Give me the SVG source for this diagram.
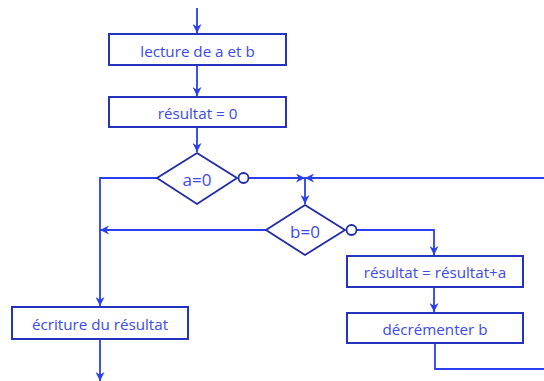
<svg xmlns="http://www.w3.org/2000/svg" width="544" height="381" viewBox="0 0 544 381">
<defs>
<marker id="ah" viewBox="0 0 10 10" refX="10" refY="5" markerWidth="9" markerHeight="9" markerUnits="userSpaceOnUse" orient="auto">
<path d="M0,0 L10,5 L0,10 L3,5 Z" fill="#2a3ff0"/>
</marker>
<style>
.box{fill:#fff;stroke:#2534c0;stroke-width:2}
.dia{fill:#fff;stroke:#1e2aa8;stroke-width:1.8}
.ln{fill:none;stroke:#2a3ff0;stroke-width:1.8}
.arr{fill:none;stroke:#2a3ff0;stroke-width:1.8;marker-end:url(#ah)}
.circ{fill:#fff;stroke:#1e2aa8;stroke-width:1.8}
text{font-family:"Open Sans","Liberation Sans",sans-serif;font-size:15.2px;fill:#3a4aee;text-anchor:middle;dominant-baseline:central}
.dt{font-size:17px}
</style>
</defs>
<rect width="544" height="381" fill="#fff"/>
<g id="connectors">
<path class="arr" d="M197,8 V33"/>
<path class="arr" d="M197,65 V96"/>
<path class="arr" d="M197,127 V152"/>
<path class="ln" d="M157,178 H100 V230"/>
<path class="arr" d="M100,230 V306"/>
<path class="arr" d="M249,178 H305"/>
<path class="arr" d="M544,178 H305"/>
<path class="arr" d="M305,178 V204"/>
<path class="arr" d="M266,230 H100"/>
<path class="arr" d="M357,230 H434 V255"/>
<path class="arr" d="M434,287 V312"/>
<path class="ln" d="M435,343 V369 H544"/>
<path class="arr" d="M100,339 V381"/>
</g>
<g id="n1"><rect class="box" x="109" y="34" width="177" height="31"/><text x="197.5" y="51">lecture de a et b</text></g>
<g id="n2"><rect class="box" x="109" y="97" width="177" height="30"/><text x="197.5" y="112.5">résultat = 0</text></g>
<g id="d1"><path class="dia" d="M197,153 L237,178 L197,204 L157,178 Z"/><circle class="circ" cx="243.5" cy="178" r="5"/><text class="dt" x="197" y="179">a=0</text></g>
<g id="d2"><path class="dia" d="M305,205 L345,230 L305,255 L266,230 Z"/><circle class="circ" cx="351.5" cy="230" r="5"/><text class="dt" x="305" y="231">b=0</text></g>
<g id="n3"><rect class="box" x="347" y="256" width="176" height="31"/><text x="435" y="272">résultat = résultat+a</text></g>
<g id="n4"><rect class="box" x="347" y="313" width="176" height="30"/><text x="435" y="329">décrémenter b</text></g>
<g id="n5"><rect class="box" x="12" y="307" width="176" height="32"/><text x="100" y="324">écriture du résultat</text></g>
</svg>
